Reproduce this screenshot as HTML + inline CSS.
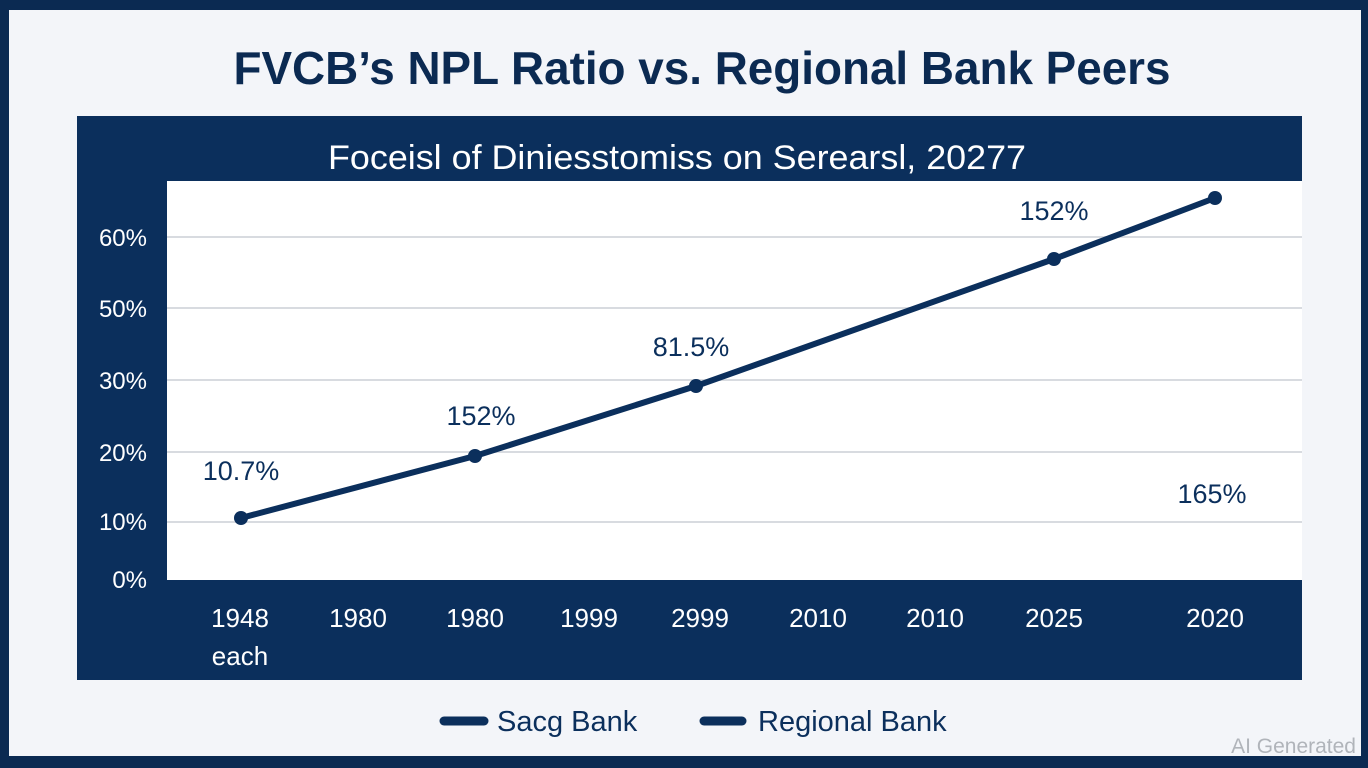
<!DOCTYPE html>
<html><head><meta charset="utf-8"><style>
body{margin:0;width:1368px;height:768px;overflow:hidden;background:#f3f5f9;font-family:"Liberation Sans",sans-serif}
</style></head><body>
<svg width="1368" height="768" xmlns="http://www.w3.org/2000/svg" style="position:absolute;left:0;top:0">
<rect x="0" y="0" width="1368" height="768" fill="#0b2a52"/>
<rect x="9" y="10" width="1352" height="746" fill="#f3f5f9"/>
<text x="702" y="84" text-anchor="middle" font-size="46" font-weight="bold" fill="#0b2a52" textLength="937" lengthAdjust="spacingAndGlyphs">FVCB’s NPL Ratio vs. Regional Bank Peers</text>
<rect x="77" y="116" width="1225" height="564" fill="#0b2f5c"/>
<text x="677" y="169" text-anchor="middle" font-size="34" fill="#fff" textLength="698" lengthAdjust="spacingAndGlyphs">Foceisl of Diniesstomiss on Serearsl, 20277</text>
<rect x="167" y="181" width="1135" height="399" fill="#fff"/>
<g stroke="#d8dbe0" stroke-width="2">
<line x1="167" y1="237" x2="1302" y2="237"/><line x1="167" y1="308" x2="1302" y2="308"/>
<line x1="167" y1="380" x2="1302" y2="380"/><line x1="167" y1="452" x2="1302" y2="452"/>
<line x1="167" y1="522" x2="1302" y2="522"/></g>
<g fill="#fff" font-size="24" text-anchor="end">
<text x="147" y="246">60%</text><text x="147" y="317">50%</text><text x="147" y="389">30%</text>
<text x="147" y="461">20%</text><text x="147" y="530">10%</text><text x="147" y="588">0%</text></g>
<polyline points="241,518 475,456 696,386 1054,259 1215,198" fill="none" stroke="#0b2f5c" stroke-width="6" stroke-linejoin="round"/>
<g fill="#0b2f5c"><circle cx="241" cy="518" r="7"/><circle cx="475" cy="456" r="7"/><circle cx="696" cy="386" r="7"/><circle cx="1054" cy="259" r="7"/><circle cx="1215" cy="198" r="7"/></g>
<g fill="#0b2f5c" font-size="27" text-anchor="middle">
<text x="241" y="480">10.7%</text><text x="481" y="425">152%</text><text x="691" y="356">81.5%</text>
<text x="1054" y="220">152%</text><text x="1212" y="503">165%</text></g>
<g fill="#fff" font-size="26" text-anchor="middle">
<text x="240" y="627">1948</text><text x="358" y="627">1980</text><text x="475" y="627">1980</text>
<text x="589" y="627">1999</text><text x="700" y="627">2999</text><text x="818" y="627">2010</text>
<text x="935" y="627">2010</text><text x="1054" y="627">2025</text><text x="1215" y="627">2020</text>
<text x="240" y="665">each</text></g>
<g stroke="#0b2f5c" stroke-width="9" stroke-linecap="round"><line x1="444" y1="721" x2="484" y2="721"/><line x1="704" y1="721" x2="742" y2="721"/></g>
<g fill="#0b2f5c" font-size="29"><text x="497" y="731">Sacg Bank</text><text x="758" y="731">Regional Bank</text></g>
<text x="1356" y="753" text-anchor="end" font-size="21" fill="#b0b4ba">AI Generated</text>
</svg>
</body></html>
